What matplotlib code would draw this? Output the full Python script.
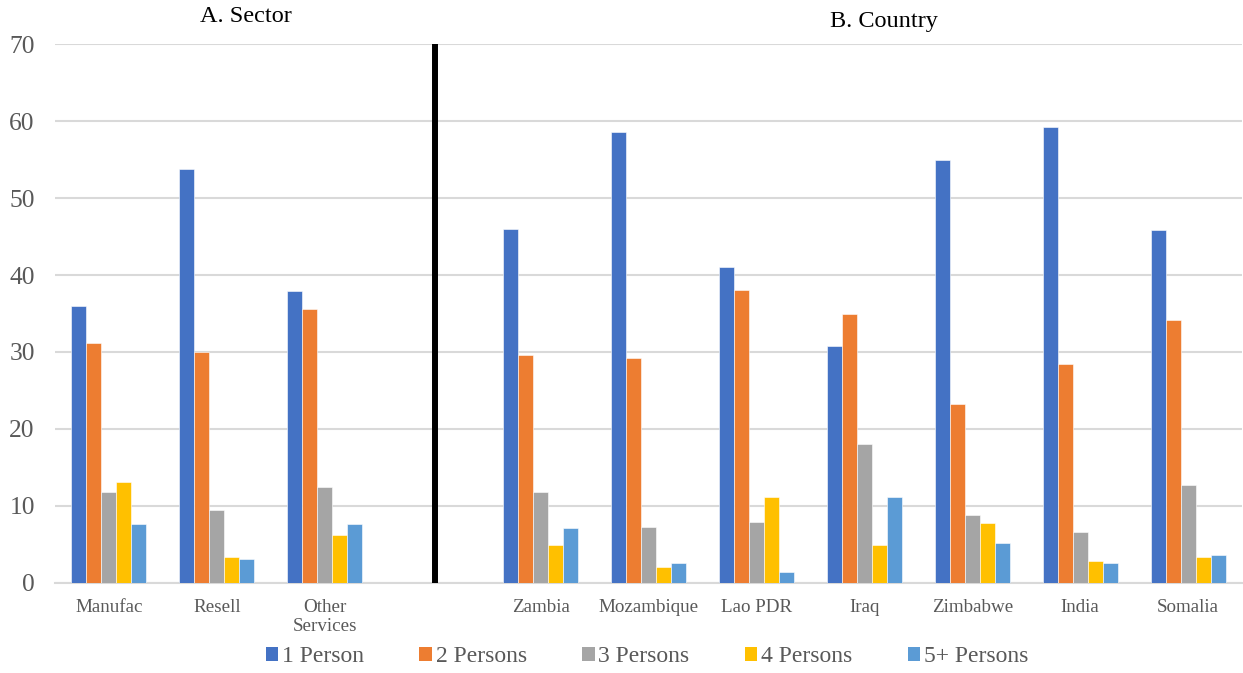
import numpy as np
import matplotlib
matplotlib.use("Agg")
import matplotlib.pyplot as plt
from matplotlib.patches import Patch

# Share of firms by number of persons, by sector and by country
categories = ["Manufac", "Resell", "Other\nServices", "",
              "Zambia", "Mozambique", "Lao PDR", "Iraq", "Zimbabwe", "India", "Somalia"]
series_names = ["1 Person", "2 Persons", "3 Persons", "4 Persons", "5+ Persons"]

one_person   = [36.0, 53.8, 37.9, None, 46.0, 58.6, 41.1, 30.8, 54.9, 59.3, 45.8]
two_persons  = [31.1, 30.0, 35.6, None, 29.6, 29.2, 38.1, 34.9, 23.2, 28.4, 34.2]
three_persons = [11.8, 9.4, 12.4, None, 11.8, 7.3, 7.9, 18.0, 8.8, 6.6, 12.7]
four_persons = [13.1, 3.4, 6.2, None, 4.9, 2.1, 11.1, 4.9, 7.7, 2.8, 3.3]
five_plus    = [7.6, 3.1, 7.6, None, 7.1, 2.5, 1.4, 11.1, 5.1, 2.6, 3.6]

colors = ["#4472C4", "#ED7D31", "#A5A5A5", "#FFC000", "#5B9BD5"]
panel_titles = ["A. Sector", "B. Country"]

serif = "Liberation Serif"
tick_color = "#595959"
grid_color = "#D9D9D9"

fig = plt.figure(figsize=(12.43, 6.73), dpi=100)
ax = fig.add_axes([55 / 1243, (673 - 582.7) / 673, (1242 - 55) / 1243, 538.4 / 673])

x = np.arange(len(categories))
all_series = [one_person, two_persons, three_persons, four_persons, five_plus]
bar_w = 0.139
for i, (vals, col) in enumerate(zip(all_series, colors)):
    v = np.array(vals, dtype=float)
    ax.bar(x + (i - 2) * bar_w, v, width=bar_w, color=col, edgecolor="white",
           linewidth=0.4, zorder=3)

# divider between the two panels
ax.axvline(3.02, ymin=0, ymax=1, color="black", linewidth=4.3, zorder=4)

ax.set_xlim(-0.5, len(categories) - 0.5)
ax.set_ylim(0, 70)
ax.set_yticks(range(0, 71, 10))
ax.yaxis.grid(True, color=grid_color, linewidth=1.5, zorder=0)
ax.set_axisbelow(True)
for s in ["top", "right", "left"]:
    ax.spines[s].set_visible(False)
ax.spines["bottom"].set_color(grid_color)
ax.spines["bottom"].set_linewidth(1.5)

ax.set_xticks(x)
ax.set_xticklabels(categories, fontfamily=serif, fontsize=13.7, color=tick_color,
                   linespacing=1.15)
ax.tick_params(axis="x", length=0, pad=11.5)
ax.tick_params(axis="y", length=0, pad=14.5, labelsize=18.4, labelcolor=tick_color)
for lab in ax.get_yticklabels():
    lab.set_fontfamily(serif)

fig.text(245.5 / 1243, 1 - 16 / 673, panel_titles[0], ha="center", va="center",
         fontfamily=serif, fontsize=17.5, color="black")
fig.text(883.5 / 1243, 1 - 21 / 673, panel_titles[1], ha="center", va="center",
         fontfamily=serif, fontsize=17.5, color="black")

handles = [Patch(facecolor=c, edgecolor="none", label=n) for c, n in zip(colors, series_names)]
fig.legend(handles=handles, loc="center", bbox_to_anchor=(647 / 1243, 1 - 657 / 673),
           ncol=5, frameon=False, handlelength=0.53, handleheight=0.53, handletextpad=0.15,
           columnspacing=2.35, prop={"family": serif, "size": 17}, labelcolor=tick_color,
           borderaxespad=0, borderpad=0)

fig.savefig("out.png", dpi=100)
